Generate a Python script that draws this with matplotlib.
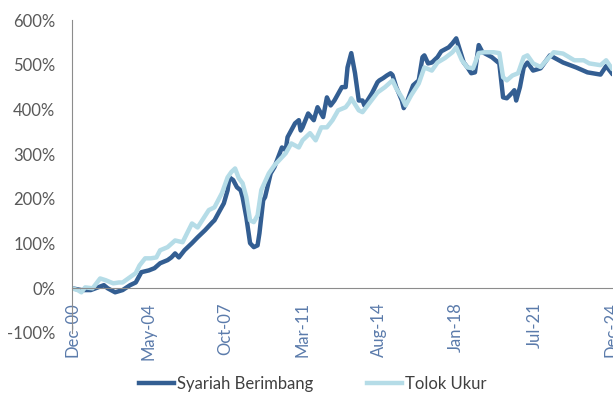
import matplotlib.pyplot as plt

# monthly offsets from Dec-00 and cumulative return (%) for each fund
bulan_syariah = [0, 5, 10, 17, 19, 23, 27, 31, 34, 37, 41, 44, 47, 51, 53, 55, 57, 60, 64, 67,
                 71, 75, 76, 79, 81, 83, 84, 86, 88, 90, 91, 93, 95, 97, 99, 100, 102, 103, 106, 108,
                 112, 114, 115, 119, 121, 122, 123, 126, 129, 131, 134, 136, 138, 140, 144, 146, 147, 149, 151, 153,
                 155, 156, 160, 163, 164, 166, 168, 170, 171, 173, 176, 177, 179, 182, 185, 187, 188, 190, 192, 195,
                 197, 201, 203, 205, 207, 209, 211, 213, 215, 217, 219, 220, 224, 226, 228, 229, 230, 232, 235, 236,
                 237, 239, 241, 243, 246, 250, 255, 262, 269, 275, 282, 285, 288]
nilai_syariah = [0, -4, -4, 7, 0, -9, -4, 7, 13, 36, 40, 45, 56, 63, 69, 78, 69, 85, 101, 114,
                 130, 148, 152, 175, 190, 219, 248, 242, 226, 219, 204, 159, 101, 92, 96, 123, 197, 204, 257, 271,
                 315, 309, 338, 369, 376, 353, 360, 391, 376, 405, 383, 427, 409, 420, 450, 450, 494, 526, 481, 420,
                 420, 409, 436, 461, 465, 470, 476, 481, 477, 450, 420, 403, 420, 454, 465, 517, 521, 503, 505, 517,
                 530, 539, 548, 559, 532, 505, 494, 481, 483, 544, 528, 526, 517, 510, 503, 465, 427, 425, 438, 443,
                 420, 450, 494, 505, 487, 492, 521, 505, 494, 483, 478, 497, 481]

bulan_tolok = [0, 3, 5, 7, 11, 15, 18, 22, 25, 27, 31, 34, 36, 39, 42, 45, 47, 51, 55, 59,
               64, 67, 73, 76, 80, 83, 85, 87, 89, 91, 93, 95, 97, 99, 101, 105, 108, 114, 117, 121,
               123, 127, 130, 133, 136, 139, 142, 146, 148, 149, 153, 155, 159, 163, 167, 171, 173, 176, 178, 181,
               185, 188, 192, 195, 199, 203, 205, 208, 211, 214, 217, 220, 225, 228, 230, 232, 235, 238, 241, 243,
               246, 250, 257, 262, 268, 273, 276, 282, 285, 288]
nilai_tolok = [0, -4, -9, 2, 0, 22, 18, 11, 13, 13, 25, 34, 51, 67, 67, 69, 85, 92, 107, 103,
               145, 136, 175, 181, 213, 248, 260, 268, 246, 235, 204, 152, 148, 163, 220, 257, 275, 302, 324, 315,
               331, 347, 331, 360, 360, 376, 398, 405, 416, 425, 398, 394, 416, 438, 450, 465, 447, 427, 409, 432,
               458, 494, 487, 505, 515, 528, 539, 510, 494, 492, 526, 528, 528, 526, 472, 465, 476, 481, 517, 521,
               503, 495, 528, 525, 510, 510, 503, 499, 510, 492]

posisi_label = [0, 41, 82, 123, 164, 205, 247, 288]
label_bulan = ['Dec-00', 'May-04', 'Oct-07', 'Mar-11', 'Aug-14', 'Jan-18', 'Jul-21', 'Dec-24']

plt.rcParams['font.family'] = ['Lato', 'DejaVu Sans']

fig = plt.figure(figsize=(6.13, 3.93), dpi=100)
ax = fig.add_axes([0.1175, 0.1527, 0.8805, 0.7963])

ax.plot(bulan_syariah, nilai_syariah, color='#335e92', lw=3.2, label='Syariah Berimbang',
        solid_joinstyle='round')
ax.plot(bulan_tolok, nilai_tolok, color='#b5dce7', lw=3.2, label='Tolok Ukur',
        solid_joinstyle='round')

ax.set_xlim(0, 288)
ax.set_ylim(-100, 600)
ax.set_yticks(range(-100, 601, 100))
ax.set_yticklabels([f'{v}%' for v in range(-100, 601, 100)])
ax.set_xticks(posisi_label)
ax.set_xticklabels(label_bulan)

for s in ['top', 'right']:
    ax.spines[s].set_visible(False)
ax.spines['left'].set_color('#8c8c8c')
ax.spines['bottom'].set_color('#8c8c8c')
ax.spines['bottom'].set_position(('data', 0))

ax.tick_params(axis='y', length=0, pad=12, labelsize=12, labelcolor='#595959')
ax.tick_params(axis='x', length=0, pad=10, labelsize=12, labelcolor='#5b7bab', labelrotation=90)

fig.legend(loc='lower center', bbox_to_anchor=(0.51, -0.035), ncol=2, frameon=False,
           fontsize=12, handlelength=2.1, handletextpad=0.2, columnspacing=3.2,
           labelcolor='#404040')

plt.savefig('out.png', dpi=100)
